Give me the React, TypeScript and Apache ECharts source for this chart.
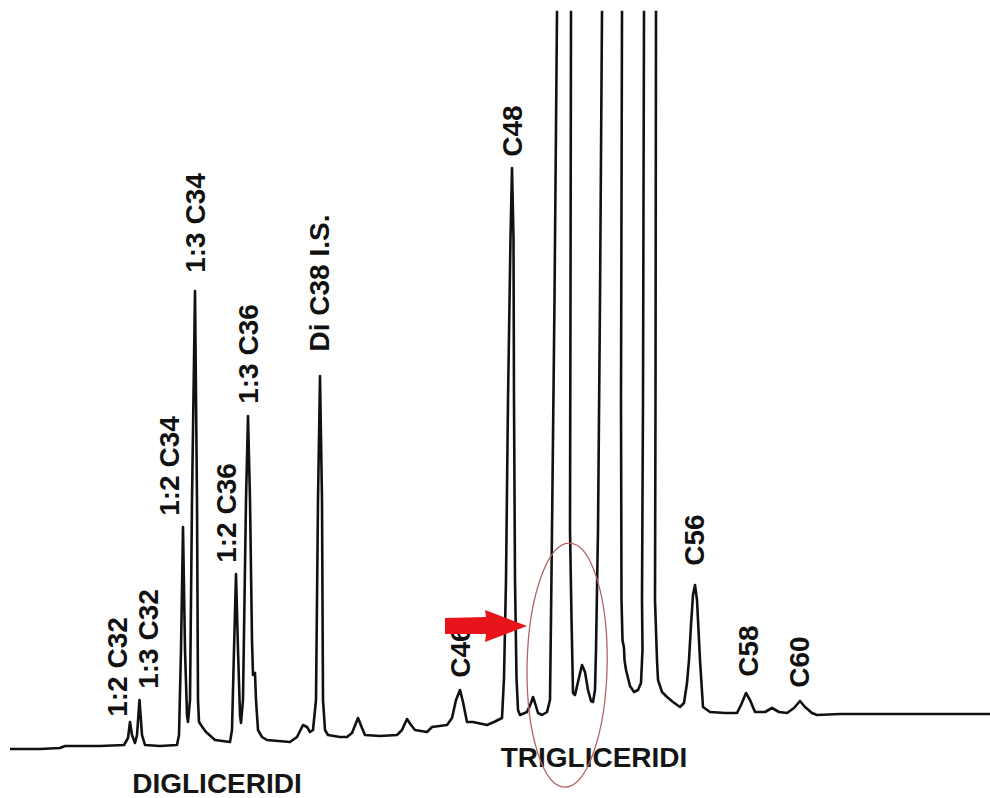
import React, { useEffect, useRef } from "react";
import * as echarts from "echarts";

// Chromatogram trace: [retention time (a.u.), detector signal (a.u.)]
const digliceridiTrace: [number, number][] = [
  [10, 49], [40, 49], [60, 50], [65, 52], [100, 52], [124, 53],
  [128, 60], [130, 76], [132, 63], [135, 55],
  [137, 63], [139.5, 98], [142, 63], [145, 53],
  [160, 52], [177, 53],
  [179, 63], [181, 148], [183, 271], [185, 148], [187, 83], [188, 76],
  [190, 98], [192, 298], [195, 507], [197, 298], [198, 98], [199, 76], [203, 70], [206, 66], [215, 58], [230, 56],
  [232, 68], [234, 148], [236, 224], [238, 148], [240, 83], [241, 75],
  [243, 98], [246, 298], [248, 382], [250, 298], [252, 158], [253, 123], [255, 125], [256, 98], [258, 68], [262, 61], [267, 58], [290, 56],
  [297, 61], [303, 73], [307, 71], [310, 66], [313, 68],
  [316, 98], [318, 298], [320, 422], [322, 298], [323, 98], [325, 68], [328, 63], [340, 61], [347, 61],
  [352, 65], [358, 80], [362, 70], [365, 63], [380, 62], [397, 63],
  [402, 68], [407, 79], [411, 73], [415, 68], [427, 66], [432, 71], [447, 73],
];

const trigliceridiTrace: [number, number][] = [
  [452, 80], [456, 98], [460, 108], [463, 96], [467, 76], [473, 76], [487, 73], [494, 76], [498, 78],
  [502, 80], [504, 120], [506, 218], [508, 398], [510.5, 560], [512, 630], [513.5, 560], [514, 398], [515, 218], [516.5, 120], [518, 88], [520, 83], [527, 86],
  [531, 95], [533, 101], [535, 95], [538, 85], [542, 83], [547, 86],
  [550, 98], [551, 180], [552, 268], [554.5, 498], [557, 786], [564, 1400], [571, 786], [570.5, 498], [570, 268], [571.5, 180], [573, 105], [575, 103],
  [578, 116], [582, 133], [585, 126], [588, 108], [591, 97], [593, 96],
  [595, 108], [596, 148], [598, 268], [600, 498], [602, 786], [612, 1500], [622, 786], [621, 398], [621.5, 198], [622.5, 158], [624, 150], [624.5, 138], [626, 128], [630, 112], [634, 106], [638, 108], [641, 115],
  [642.5, 148], [642, 198], [643, 398], [644, 786], [650, 1300], [656, 786], [655.5, 398], [655, 198], [657, 138], [658, 118], [662, 106], [667, 101], [673, 96], [680, 91], [684, 95],
  [687, 115], [689, 138], [691, 173], [693, 203], [695, 213], [697, 198], [700, 138], [703, 91], [710, 86], [725, 85], [737, 85],
  [741, 93], [746, 105], [750, 98], [755, 86], [765, 86], [772, 90], [779, 86], [787, 85],
  [794, 90], [800, 97], [805, 91], [812, 85], [817, 83], [840, 84], [880, 84], [920, 84], [960, 84], [990, 84],
];

// Peak annotations: label text and label centre [retention time, signal]
const peakNames = ["1:2 C32", "1:3 C32", "1:2 C34", "1:3 C34", "1:2 C36", "1:3 C36", "Di C38 I.S.", "C46", "C48", "C56", "C58", "C60"];
const peakLabelRt = [117, 148, 169, 195, 226, 248, 319, 460, 512, 694, 748, 799];
const peakLabelSignal = [131, 159, 332, 575, 285, 444, 515, 146, 667, 258, 147, 136];

// Group annotations
const groupNames = ["DIGLICERIDI", "TRIGLICERIDI"];
const groupRt = [217, 594];
const groupSignal = [15, 41];

const X_MIN = 0;
const X_MAX = 990;
const Y_MIN = 0;
const Y_MAX = 786;

export default function App() {
  const ref = useRef<HTMLDivElement>(null);

  useEffect(() => {
    if (!ref.current) return;
    const chart = echarts.init(ref.current, null, { renderer: "svg" });

    const labelFont = '"Liberation Sans", Arial, sans-serif';

    chart.setOption({
      animation: false,
      backgroundColor: "#ffffff",
      grid: { left: 0, right: 0, top: 12, bottom: 0, containLabel: false },
      xAxis: { type: "value", min: X_MIN, max: X_MAX, show: false },
      yAxis: { type: "value", min: Y_MIN, max: Y_MAX, show: false },
      series: [
        {
          type: "line",
          data: [...digliceridiTrace, ...trigliceridiTrace],
          showSymbol: false,
          symbol: "none",
          clip: true,
          lineStyle: { color: "#111111", width: 2.6, join: "round" },
          z: 3,
        },
        {
          type: "scatter",
          symbolSize: 0,
          silent: true,
          itemStyle: { opacity: 1 },
          data: peakNames.map((n, i) => ({ name: n, value: [peakLabelRt[i], peakLabelSignal[i]] })),
          label: {
            show: true,
            formatter: "{b}",
            rotate: 90,
            position: "inside",
            align: "center",
            verticalAlign: "middle",
            color: "#111111",
            opacity: 1,
            fontFamily: labelFont,
            fontWeight: "bold",
            fontSize: 28,
          },
          z: 4,
        },
        {
          type: "scatter",
          symbolSize: 0,
          silent: true,
          itemStyle: { opacity: 1 },
          data: groupNames.map((n, i) => ({ name: n, value: [groupRt[i], groupSignal[i]] })),
          label: {
            show: true,
            formatter: "{b}",
            position: "inside",
            align: "center",
            verticalAlign: "middle",
            color: "#151515",
            opacity: 1,
            lineHeight: 22,
            fontFamily: labelFont,
            fontWeight: "bold",
            fontSize: 28,
          },
          z: 4,
        },
      ],
      graphic: [
        {
          type: "polygon",
          z: 100,
          shape: {
            points: [
              [445, 618], [486, 617], [485, 610], [527, 626], [485, 642], [486, 634], [445, 634],
            ],
          },
          style: { fill: "#e8141c" },
        },
        {
          type: "ellipse",
          z: 100,
          originX: 567,
          originY: 665,
          rotation: -0.02,
          shape: { cx: 567, cy: 665, rx: 40, ry: 122 },
          style: { fill: "none", stroke: "#b26464", lineWidth: 1.3 },
        },
      ],
    });

    return () => {
      chart.dispose();
    };
  }, []);

  return (
    <div
      ref={ref}
      style={{ position: "fixed", left: 0, top: 0, width: 990, height: 798, background: "#fff" }}
    />
  );
}
